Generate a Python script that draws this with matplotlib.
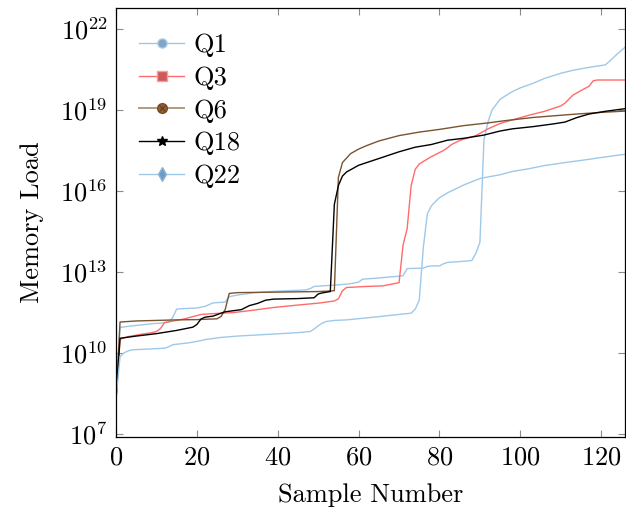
import numpy as np
import matplotlib
matplotlib.use("Agg")
import matplotlib.pyplot as plt
from matplotlib.lines import Line2D
from matplotlib.ticker import NullLocator

plt.rcParams['font.family'] = 'serif'
plt.rcParams['font.serif'] = ['cmr10']
plt.rcParams['mathtext.fontset'] = 'cm'
plt.rcParams['axes.formatter.use_mathtext'] = True

# memory load, stored as exponents of 10
q1_x = [0, 1, 3, 6, 9, 11, 12, 13, 14, 15, 17, 20, 22, 24, 26, 27, 28, 30, 34, 38,
        44, 47, 48, 49, 52, 55, 58, 60, 61, 64, 67, 70, 71, 72, 76, 77, 78, 80, 81,
        82, 85, 88, 89, 90, 91, 92, 93, 95, 98, 100, 103, 106, 110, 113, 117, 121,
        122, 124, 126]
q1_exp = [8.26, 10.94, 10.98, 11.03, 11.08, 11.10, 11.12, 11.14, 11.30, 11.62, 11.64,
          11.66, 11.72, 11.85, 11.87, 11.88, 12.08, 12.14, 12.22, 12.27, 12.31, 12.33,
          12.38, 12.46, 12.49, 12.52, 12.56, 12.62, 12.73, 12.76, 12.80, 12.84, 12.86,
          13.12, 13.14, 13.20, 13.22, 13.22, 13.30, 13.35, 13.38, 13.42, 13.69, 14.10,
          17.90, 18.56, 19.00, 19.40, 19.68, 19.82, 19.98, 20.17, 20.36, 20.47, 20.58,
          20.67, 20.80, 21.08, 21.34]

q3_x = [0, 1, 3, 6, 9, 10, 11, 12, 15, 17, 21, 25, 29, 34, 39, 45, 50, 54, 55, 56,
        57, 62, 66, 70, 71, 72, 73, 74, 75, 78, 81, 82, 83, 85, 89, 92, 95, 98, 102,
        106, 110, 111, 113, 115, 117, 118, 119, 126]
q3_exp = [8.26, 10.50, 10.60, 10.68, 10.75, 10.79, 10.90, 11.12, 11.20, 11.26, 11.42,
          11.46, 11.49, 11.58, 11.68, 11.77, 11.84, 11.92, 12.00, 12.30, 12.42, 12.46,
          12.48, 12.60, 14.00, 14.60, 16.20, 16.80, 17.00, 17.27, 17.50, 17.60, 17.72,
          17.87, 18.05, 18.30, 18.50, 18.63, 18.80, 18.95, 19.15, 19.25, 19.55, 19.72,
          19.88, 20.08, 20.11, 20.11]

q6_x = [0, 1, 5, 10, 15, 20, 25, 26, 27, 28, 30, 40, 50, 54, 55, 56, 58, 60, 62, 65,
        70, 75, 80, 86, 92, 96, 103, 108, 114, 120, 126]
q6_exp = [8.26, 11.14, 11.18, 11.20, 11.22, 11.23, 11.26, 11.35, 11.60, 12.20, 12.23,
          12.25, 12.27, 12.30, 16.50, 17.05, 17.38, 17.55, 17.68, 17.85, 18.05, 18.18,
          18.28, 18.42, 18.52, 18.60, 18.72, 18.78, 18.85, 18.91, 18.96]

q18_x = [0, 1, 5, 10, 15, 19, 20, 21, 22, 24, 26, 27, 31, 33, 35, 37, 39, 45, 49, 50,
         51, 53, 54, 55, 56, 57, 60, 63, 66, 70, 74, 78, 82, 86, 91, 95, 98, 103, 108,
         111, 114, 117, 121, 126]
q18_exp = [8.26, 10.54, 10.62, 10.71, 10.83, 10.95, 11.05, 11.25, 11.32, 11.36, 11.47,
           11.52, 11.60, 11.75, 11.83, 11.95, 11.99, 12.01, 12.04, 12.18, 12.22, 12.27,
           15.50, 16.20, 16.55, 16.70, 16.95, 17.10, 17.25, 17.45, 17.62, 17.72, 17.88,
           17.95, 18.07, 18.22, 18.30, 18.38, 18.48, 18.55, 18.72, 18.85, 18.95, 19.05]

q22_x = [0, 1, 2, 3, 4, 8, 12, 13, 14, 18, 21, 22, 26, 30, 36, 42, 46, 48, 49, 50, 51,
         52, 54, 57, 65, 73, 74, 75, 76, 77, 78, 80, 82, 86, 90, 95, 98, 102, 106, 111,
         116, 121, 126]
q22_exp = [8.26, 9.86, 10.00, 10.07, 10.11, 10.14, 10.17, 10.22, 10.30, 10.37, 10.45,
           10.49, 10.57, 10.62, 10.67, 10.72, 10.76, 10.79, 10.88, 11.00, 11.10, 11.16,
           11.20, 11.22, 11.34, 11.47, 11.62, 11.95, 13.90, 15.15, 15.45, 15.75, 15.93,
           16.22, 16.46, 16.60, 16.72, 16.82, 16.94, 17.05, 17.15, 17.26, 17.36]

y_ticks = [1e7, 1e10, 1e13, 1e16, 1e19, 1e22]
x_ticks = [0, 20, 40, 60, 80, 100, 120]

blue = '#9fc9e8'
red = '#ff6b6b'
brown = '#7a5330'
fs = 19

fig = plt.figure(figsize=(6.26, 5.08), dpi=100)
ax = fig.add_axes([0.1853, 0.1398, 0.8139, 0.8445])

lw = 1.0
ax.plot(q1_x, 10 ** np.array(q1_exp), color=blue, lw=lw)
ax.plot(q3_x, 10 ** np.array(q3_exp), color=red, lw=lw)
ax.plot(q6_x, 10 ** np.array(q6_exp), color=brown, lw=lw)
ax.plot(q18_x, 10 ** np.array(q18_exp), color='black', lw=lw)
ax.plot(q22_x, 10 ** np.array(q22_exp), color=blue, lw=lw)

ax.set_yscale('log')
ax.set_xlim(0, 126)
ax.set_ylim(10 ** 6.88, 10 ** 22.78)
ax.set_yticks(y_ticks)
ax.set_xticks(x_ticks)
ax.yaxis.set_minor_locator(NullLocator())

ax.tick_params(which='both', direction='in', length=5, width=0.8, color='#8c8c8c',
               top=True, right=True, labelsize=fs, pad=6)
for s in ax.spines.values():
    s.set_linewidth(0.9)

ax.set_xlabel('Sample Number', fontsize=fs, labelpad=10)
ax.set_ylabel('Memory Load', fontsize=fs, labelpad=12)

# legend handles
h_q1 = Line2D([], [], color=blue, lw=lw, marker='o', ms=6.5, mfc='#7fa6c8', mec='#a5c6e2')
h_q3 = Line2D([], [], color=red, lw=lw, marker='s', ms=6.5, mfc='#cd5a5a', mec='#ff9a9a')
h_q6a = Line2D([], [], color='#b39b80', lw=lw + 0.4, marker='o', ms=7, mfc='#93602f', mec='#7a4c22')
h_q6b = Line2D([], [], ls='none', marker='x', ms=5, mew=0.7, color='#5a3a1a')
h_q18 = Line2D([], [], color='black', lw=lw, marker='*', ms=7, mfc='black', mec='black')
h_q22 = Line2D([], [], color=blue, lw=lw, marker='d', ms=7, mfc='#6f9cc5', mec='#8fb5d8')

leg = ax.legend([h_q1, h_q3, (h_q6a, h_q6b), h_q18, h_q22],
                ['Q1', 'Q3', 'Q6', 'Q18', 'Q22'],
                loc='upper left', bbox_to_anchor=(0.035, 0.953), frameon=False,
                fontsize=fs, handlelength=1.7, handletextpad=0.35, labelspacing=0.34,
                borderpad=0.2, borderaxespad=0)

fig.savefig('out.png', dpi=100)
